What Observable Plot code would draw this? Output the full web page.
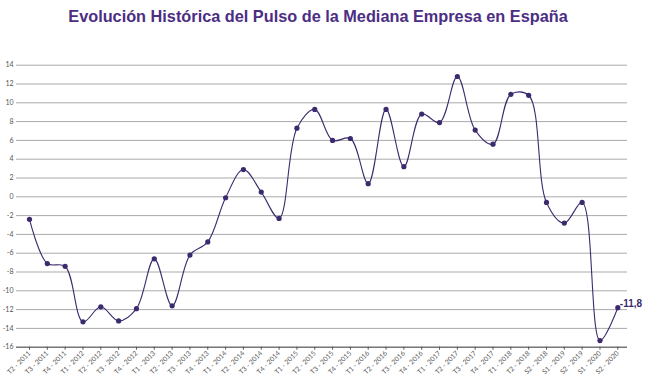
<!DOCTYPE html>
<html><head><meta charset="utf-8">
<script src="https://cdn.jsdelivr.net/npm/d3@7"></script>
<script src="https://cdn.jsdelivr.net/npm/@observablehq/plot@0.6"></script>
<style>
body{margin:0;background:#fff;width:650px;height:391px;overflow:hidden}
#title{height:38px;font:bold 16.3px "Liberation Sans",Arial,sans-serif;color:#4b2e83;text-align:center;line-height:32px;padding-right:14px;white-space:nowrap}
#chart svg{display:block}
</style></head><body>
<div id="title">Evolución Histórica del Pulso de la Mediana Empresa en España</div>
<div id="chart"></div>
<script>
const periods = ["T2 - 2011","T3 - 2011","T4 - 2011","T1 - 2012","T2 - 2012","T3 - 2012","T4 - 2012","T1 - 2013","T2 - 2013","T3 - 2013","T4 - 2013","T1 - 2014","T2 - 2014","T3 - 2014","T4 - 2014","T1 - 2015","T2 - 2015","T3 - 2015","T4 - 2015","T1 - 2016","T2 - 2016","T3 - 2016","T4 - 2016","T1 - 2017","T2 - 2017","T3 - 2017","T4 - 2017","T1 - 2018","T2 - 2018","S2 - 2018","S1 - 2019","S2 - 2019","S1 - 2020","S2 - 2020"];
const values = [-2.4,-7.1,-7.4,-13.3,-11.7,-13.2,-11.9,-6.6,-11.6,-6.2,-4.8,-0.1,2.9,0.5,-2.3,7.3,9.3,6.0,6.2,1.4,9.3,3.2,8.8,7.9,12.8,7.1,5.6,10.9,10.8,-0.6,-2.8,-0.6,-15.3,-11.8];
const yTicks = [-16,-14,-12,-10,-8,-6,-4,-2,0,2,4,6,8,10,12,14];

const data = periods.map((p, i) => ({i, period: p, value: values[i]}));
const last = data[data.length - 1];
const idx = data.map(d => d.i);
const ink = "#3b2a6e";

const chart = Plot.plot({
  width: 650, height: 353,
  marginLeft: 16, marginRight: 23, marginTop: 26.7, marginBottom: 44.3,
  style: {fontFamily: "Lato, 'Noto Sans', sans-serif", fontSize: "6.8px", color: "#555", background: "#fff"},
  x: {type: "linear", domain: [0, periods.length - 1], range: [29, 617.3], label: null},
  y: {domain: [-16, 14], label: null},
  marks: [
    Plot.gridY(yTicks, {stroke: "#aaa", strokeOpacity: 1}),
    Plot.axisY(yTicks, {tickSize: 0, tickPadding: 3, tickFormat: d => String(d), label: null, fontSize: 7}),
    Plot.ruleY([-16], {stroke: "#555"}),
    Plot.axisX(idx, {tickRotate: -45, tickSize: 3, tickPadding: 2, label: null, tickFormat: i => periods[i]}),
    Plot.line(data, {x: "i", y: "value", curve: "catmull-rom", stroke: ink, strokeWidth: 1.1}),
    Plot.dot(data, {x: "i", y: "value", r: 2.6, fill: ink}),
    Plot.text([last], {x: "i", y: "value", text: d => String(d.value).replace(".", ","), dx: 2, dy: -4, textAnchor: "start", fontSize: 10, fill: ink, fontFamily: "'Liberation Sans', Arial, sans-serif", fontWeight: "bold"})
  ]
});
document.getElementById("chart").append(chart);
</script>
</body></html>
